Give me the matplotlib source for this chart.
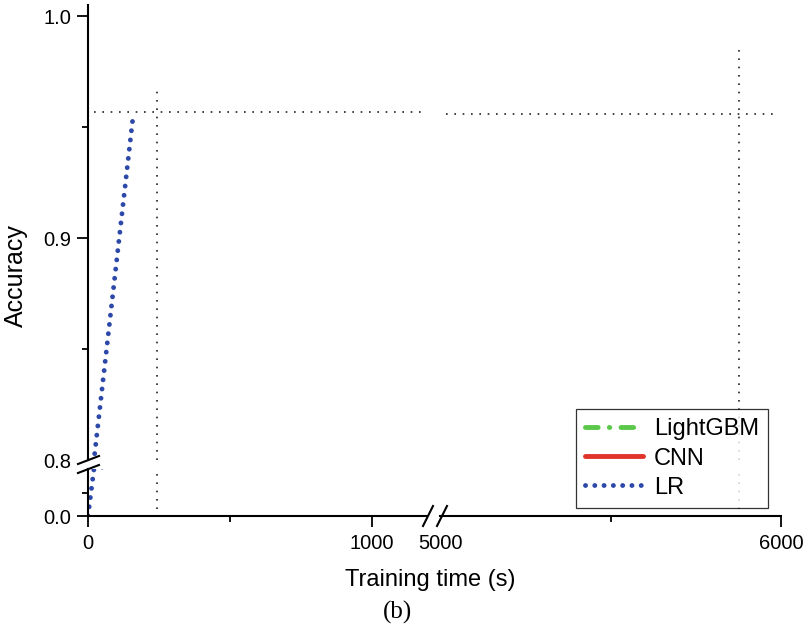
import matplotlib.pyplot as plt
from matplotlib.lines import Line2D

plt.rcParams['font.family'] = ['Liberation Sans', 'DejaVu Sans']

# LR accuracy vs training time (s)
lr_time = [0, 21, 158]
lr_acc = [0.0, 0.8, 0.954]

# LightGBM and CNN fall outside the visible window, only shown in the legend
lgbm_time, lgbm_acc = [], []
cnn_time, cnn_acc = [], []

# dotted reference lines
ref_vline_x = [243, 5877]
ref_vline_top = [0.968, 0.985]
ref_hline_y = [0.957, 0.956]
ref_hline_left = [20, 5018]
ref_hline_right = [1190, 5982]

W, H = 808, 629
fig = plt.figure(figsize=(W / 100, H / 100), dpi=100)


def box(x0, y0, x1, y1):
    # pixel box (top-left origin) -> figure fraction rect
    return [x0 / W, 1 - y1 / H, (x1 - x0) / W, (y1 - y0) / H]


ax_ul = fig.add_axes(box(88, 5, 427, 460))
ax_ur = fig.add_axes(box(440, 5, 781, 460))
ax_ll = fig.add_axes(box(88, 469, 427, 516))
ax_lr = fig.add_axes(box(440, 469, 781, 516))

for ax in (ax_ul, ax_ur, ax_ll, ax_lr):
    ax.set_facecolor('none')
    for s in ('top', 'right'):
        ax.spines[s].set_visible(False)
    for s in ('left', 'bottom'):
        ax.spines[s].set_linewidth(1.5)
    ax.tick_params(which='major', direction='out', length=8, width=1.3,
                   labelsize=14.5, pad=4)
    ax.tick_params(which='minor', direction='out', length=4, width=1.3)
ax_ll.tick_params(axis='x', pad=5)
ax_lr.tick_params(axis='x', pad=5)

ax_ul.set_xlim(0, 1194)
ax_ll.set_xlim(0, 1194)
ax_ur.set_xlim(5000, 6000)
ax_lr.set_xlim(5000, 6000)
ax_ul.set_ylim(0.8, 1.005)
ax_ur.set_ylim(0.8, 1.005)
ax_ll.set_ylim(0, 0.8)
ax_lr.set_ylim(0, 0.8)

ax_ul.spines['bottom'].set_visible(False)
ax_ur.spines['bottom'].set_visible(False)
ax_ur.spines['left'].set_visible(False)
ax_lr.spines['left'].set_visible(False)

ax_ul.set_xticks([])
ax_ur.set_xticks([])
ax_ur.set_yticks([])
ax_lr.set_yticks([])
ax_ul.set_yticks([0.8, 0.9, 1.0])
ax_ul.set_yticklabels(['0.8', '0.9', '1.0'])
ax_ul.set_yticks([0.85, 0.95], minor=True)
ax_ul.yaxis.get_major_ticks()[0].tick1line.set_visible(False)
ax_ll.set_yticks([0.0])
ax_ll.set_yticklabels(['0.0'])
ax_ll.set_yticks([0.4], minor=True)
ax_ll.set_xticks([0, 1000])
ax_ll.set_xticklabels(['0', '1000'])
ax_ll.set_xticks([500], minor=True)
ax_lr.set_xticks([5000, 6000])
ax_lr.set_xticklabels(['5000', '6000'])
ax_lr.set_xticks([5500], minor=True)
ax_lr.xaxis.get_major_ticks()[0].tick1line.set_visible(False)

ref_style = dict(color='#222222', linewidth=1.2, linestyle=(0, (1.0, 4.0)))
ax_ul.vlines(ref_vline_x[0], 0.8, ref_vline_top[0], **ref_style)
ax_ll.vlines(ref_vline_x[0], 0.12, 0.8, **ref_style)
ax_ur.vlines(ref_vline_x[1], 0.8, ref_vline_top[1], **ref_style)
ax_lr.vlines(ref_vline_x[1], 0.12, 0.8, **ref_style)
ax_ul.hlines(ref_hline_y[0], ref_hline_left[0], ref_hline_right[0], **ref_style)
ax_ur.hlines(ref_hline_y[1], ref_hline_left[1], ref_hline_right[1], **ref_style)

green = '#5bc84a'
red = '#e0332a'
blue = '#2c48a8'
lr_style = dict(color=blue, linewidth=3.5, linestyle=(0, (0.01, 1.9)),
                dash_capstyle='round')
for ax in (ax_ul, ax_ll):
    ax.plot(lr_time, lr_acc, **lr_style)
    ax.plot(lgbm_time, lgbm_acc, color=green)
    ax.plot(cnn_time, cnn_acc, color=red)

# break marks
def px_line(xs, ys):
    fig.add_artist(Line2D([x / W for x in xs], [1 - y / H for y in ys],
                          transform=fig.transFigure, color='black', linewidth=1.5))


px_line([78, 99], [464, 456])
px_line([78, 99], [473, 465])
px_line([423, 433], [526, 506])
px_line([437, 447], [526, 506])

handles = [
    Line2D([], [], color=green, linewidth=3.5, linestyle=(0, (2.6, 2.3, 0.1, 2.3)),
           dash_capstyle='round', solid_capstyle='round'),
    Line2D([], [], color=red, linewidth=3.5, solid_capstyle='round'),
    Line2D([], [], **lr_style),
]
leg = fig.legend(handles, ['LightGBM', 'CNN', 'LR'], loc='upper left',
                 bbox_to_anchor=(576 / W, 1 - 409 / H), borderaxespad=0,
                 fontsize=17, frameon=True, fancybox=False, handlelength=2.45,
                 handletextpad=0.45, labelspacing=0.3, borderpad=0.4)
leg.get_frame().set_edgecolor('black')
leg.get_frame().set_linewidth(0.9)

fig.text(430 / W, 1 - 580 / H, 'Training time (s)', fontsize=17,
         ha='center', va='center')
fig.text(16 / W, 1 - 276 / H, 'Accuracy', fontsize=18, rotation=90,
         ha='center', va='center')
fig.text(397 / W, 1 - 612 / H, '(b)', fontsize=18, family='Liberation Serif',
         ha='center', va='center')

fig.savefig('out.png', dpi=100)
